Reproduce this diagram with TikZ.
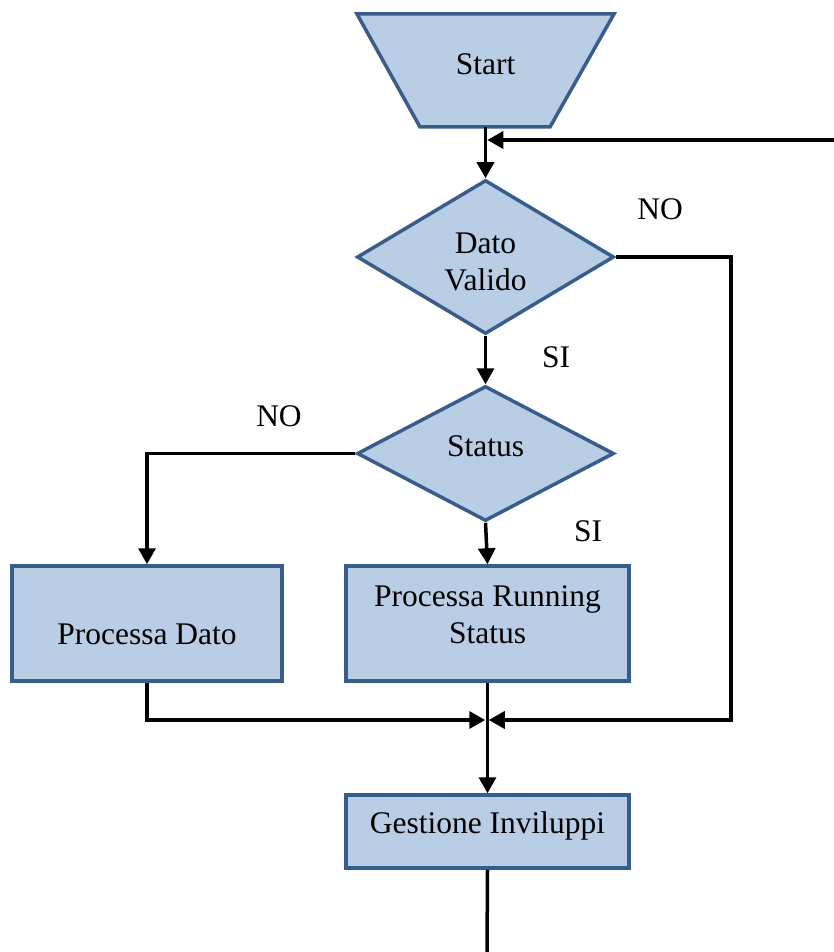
\documentclass[tikz,border=0pt]{standalone}
\usepackage{fontspec}
\setmainfont{Liberation Serif}
\usetikzlibrary{shapes.geometric,arrows.meta}
\definecolor{fillc}{HTML}{B9CDE5}
\definecolor{bordc}{HTML}{385D8A}
\begin{document}
\begin{tikzpicture}[x=1pt,y=-1pt,
  every node/.style={font=\fontsize{31.5}{37}\selectfont},
  shp/.style={draw=bordc,fill=fillc,line width=3.5pt},
  boxnode/.style={shp,rectangle,inner sep=0pt,align=center},
  dianode/.style={shp,diamond,inner sep=0pt,align=center,aspect=1.67},
  txt/.style={align=center,inner sep=0pt},
  conn/.style={draw=black,line width=3.5pt,-{Triangle[length=16pt,width=17pt]}},
  plain/.style={draw=black,line width=3.5pt}]
\useasboundingbox (0,0) rectangle (834,952);
% start trapezoid
\fill[fillc] (357,14) -- (614,14) -- (550,127) -- (420,127) -- cycle;
\draw[bordc,line width=3.5pt,line join=miter] (357,14) -- (614,14) -- (550,127) -- (420,127) -- cycle;
\node[txt,minimum width=257pt,minimum height=113pt] (start) at (485.5,70.5) {};
\node[txt] at (485.5,64) {Start};
% decisions
\node[dianode,minimum width=257pt,minimum height=154pt] (dv) at (485.5,257) {};
\node[txt] at (485.5,262) {Dato\\Valido};
\node[dianode,minimum width=257pt,minimum height=135pt] (st) at (485.5,453.5) {};
\node[txt] at (485.5,446) {Status};
% boxes
\node[boxnode,minimum width=270pt,minimum height=115pt] (pd) at (147,623.5) {};
\node[txt] at (147,634) {Processa Dato};
\node[boxnode,minimum width=283pt,minimum height=115pt] (prs) at (487.5,623.5) {};
\node[txt] at (487.5,615) {Processa Running\\Status};
\node[boxnode,minimum width=283pt,minimum height=73pt] (gi) at (487.5,831.5) {};
\node[txt] at (487.5,826) {Gestione Inviluppi};
% coordinates
\coordinate (loopin) at (834,140);
\coordinate (j) at (487,720);
\coordinate (rc) at (731,720);
\coordinate (bot) at (487,952);
% connectors
\draw[conn] (start.south) -- (dv.north);
\draw[conn] (loopin) -- ([xshift=1.75pt]start.south |- loopin);
\draw[conn] (dv.east) -| (rc) -- ([xshift=1.75pt]j);
\draw[conn] (dv.south) -- (st.north);
\draw[conn] (st.west) -| (pd.north);
\draw[conn] (st.south) -- (prs.north);
\draw[conn] (pd.south) |- ([xshift=-1.75pt]j);
\draw[conn] (prs.south) -- (gi.north);
\draw[plain] (gi.south) -- (bot);
% labels
\node[txt] (no1) at (660,209) {NO};
\node[txt] (si1) at (556,357) {SI};
\node[txt] (no2) at (279,416) {NO};
\node[txt] (si2) at (588,531) {SI};
\end{tikzpicture}
\end{document}
